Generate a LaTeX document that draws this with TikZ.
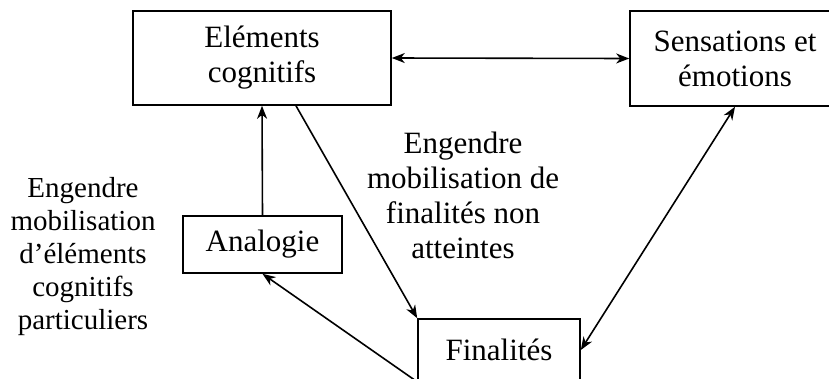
\documentclass[tikz,border=0pt]{standalone}
\usepackage{fontspec}
\setmainfont{Liberation Serif}
\usetikzlibrary{arrows.meta, positioning}

\tikzset{
    box/.style={draw, line width=1.6pt, align=center, inner sep=0pt},
    txt/.style={align=center, inner sep=0pt},
    link/.style={line width=1.6pt, -{Stealth[length=13pt, width=10pt, inset=4pt]}},
    dlink/.style={line width=1.6pt, {Stealth[length=13pt, width=10pt, inset=4pt]}-{Stealth[length=13pt, width=10pt, inset=4pt]}}
}

\begin{document}
\begin{tikzpicture}[x=1pt, y=-1pt, font=\fontsize{31}{35}\selectfont]
    \useasboundingbox (0, 0) rectangle (829, 378);
    \clip (0, 0) rectangle (829, 378);

    % Boxes
    \node[box, minimum width=258pt, minimum height=94pt] (elem) at (262, 58) {Eléments\\cognitifs};
    \node[box, minimum width=210pt, minimum height=95pt] (sens) at (735, 58.5) {Sensations et\\émotions};
    \node[box, minimum width=159pt, minimum height=57pt] (ana) at (262.5, 244.5) {Analogie};
    \node[box, minimum width=162pt, minimum height=62pt] (fin) at (499, 350) {Finalités};

    % Labels
    \node[txt] (lblfin) at (463, 195) {Engendre\\mobilisation de\\finalités non\\atteintes};
    \node[txt, font=\fontsize{29}{33}\selectfont] (lblana) at (83, 257) {Engendre\\mobilisation\\d’éléments\\cognitifs\\particuliers};

    % Connectors
    \draw[dlink] (elem.east) -- (sens.west);
    \draw[link] (ana.north) -- (elem.south);
    \draw[link] ([xshift=34pt]elem.south) -- (fin.north west);
    \draw[dlink] (sens.south) -- (fin.east);
    \draw[link] (fin.south west) -- (ana.south);
\end{tikzpicture}
\end{document}
